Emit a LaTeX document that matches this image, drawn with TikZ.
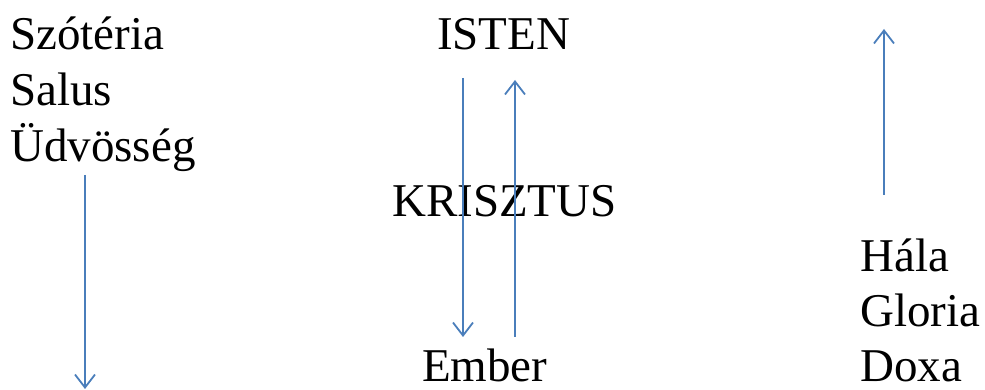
\documentclass[tikz,border=0pt]{standalone}
\usepackage{fontspec}
\setmainfont{Liberation Serif}
\usetikzlibrary{arrows.meta}
\definecolor{arrowblue}{HTML}{4A7EBB}
\begin{document}
\begin{tikzpicture}[x=1pt,y=1pt,
  lbl/.style={inner sep=0pt,anchor=base west,font=\fontsize{47}{56}\selectfont},
  conn/.style={draw=arrowblue,line width=1.8pt,-{Straight Barb[length=13pt,width=20pt,line width=1.8pt]}}]
\useasboundingbox (0,0) rectangle (985,390);
\node[lbl] (szo) at (10,340) {Szótéria};
\node[lbl] (sal) at (10,284) {Salus};
\node[lbl] (udv) at (10,228) {Üdvösség};
\node[lbl] (isten) at (437,340) {ISTEN};
\node[lbl] (krisztus) at (392,173) {KRISZTUS};
\node[lbl] (ember) at (422,8) {Ember};
\node[lbl] (hala) at (860,118) {Hála};
\node[lbl] (gloria) at (860,63) {Gloria};
\node[lbl] (doxa) at (860,8) {Doxa};
\coordinate (a1s) at (85,215);
\coordinate (a1e) at (85,1);
\coordinate (a2s) at (463,312);
\coordinate (a2e) at (463,53);
\coordinate (a3s) at (515,53);
\coordinate (a3e) at (515,310);
\coordinate (a4s) at (884,195);
\coordinate (a4e) at (884,361);
\draw[conn] (a1s) -- (a1e);
\draw[conn] (a2s) -- (a2e);
\draw[conn] (a3s) -- (a3e);
\draw[conn] (a4s) -- (a4e);
\end{tikzpicture}
\end{document}
